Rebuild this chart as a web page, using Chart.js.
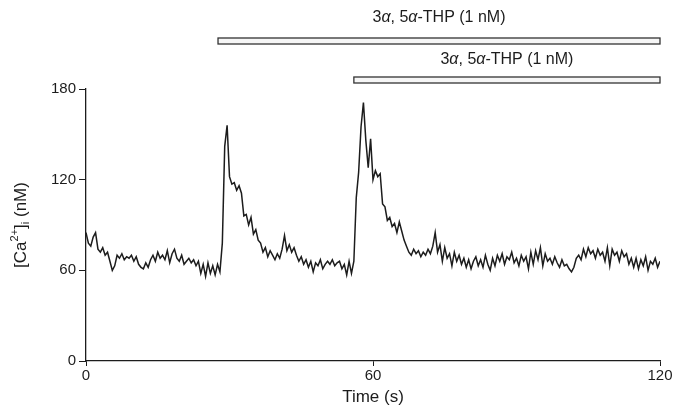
<!DOCTYPE html>
<html>
<head>
<meta charset="utf-8">
<script src="https://cdn.jsdelivr.net/npm/chart.js@4"></script>
<style>
  html, body { margin: 0; padding: 0; background: #fff; }
  #wrap { width: 676px; height: 412px; position: relative; }
</style>
</head>
<body>
<div id="wrap"><canvas id="chart-calcium"></canvas></div>
<script>
// [Ca2+]i trace, one reading every 0.5 s from 0 to 120 s
const SAMPLE_STEP = 0.5;
const caValues = [
    85, 78, 76, 82, 85, 74, 72, 75, 70, 72,
    66, 60, 63, 70, 68, 71, 67, 69, 68, 70,
    66, 69, 64, 62, 61, 65, 62, 67, 70, 66,
    72, 68, 70, 67, 73, 65, 71, 74, 68, 66,
    70, 64, 66, 68, 65, 67, 63, 66, 58, 64,
    56, 65, 58, 63, 57, 64, 59, 78, 142, 156,
    122, 117, 118, 113, 116, 111, 96, 97, 90, 95,
    84, 87, 80, 78, 72, 75, 69, 73, 70, 67,
    71, 68, 74, 83, 73, 77, 72, 75, 70, 66,
    69, 64, 67, 62, 66, 59, 65, 63, 67, 61,
    64, 66, 64, 67, 63, 65, 66, 61, 64, 57,
    66, 58, 66, 108, 125, 155, 171, 146, 128, 147,
    120, 126, 122, 124, 104, 102, 93, 95, 89, 91,
    85, 92, 86, 80, 76, 72, 70, 74, 71, 73,
    69, 72, 70, 74, 71, 76, 85, 72, 77, 66,
    75, 68, 71, 63, 72, 66, 70, 64, 68, 62,
    67, 61, 66, 69, 63, 67, 62, 70, 64, 60,
    68, 63, 70, 66, 71, 64, 69, 67, 72, 65,
    68, 63, 70, 66, 69, 61, 72, 64, 73, 67,
    75, 63, 71, 66, 68, 64, 69, 65, 62, 67,
    63, 64, 61, 59, 62, 68, 70, 67, 74, 69,
    75, 71, 73, 68, 74, 70, 72, 66, 75, 63,
    74, 70, 72, 66, 73, 69, 71, 64, 68, 62,
    68, 61, 67, 63, 69, 60, 66, 64, 68, 62,
    66
];
const xTicks = [0, 60, 120];
const yTicks = [0, 60, 120, 180];

// drug application bars (s)
const barStarts = [27.6, 56.0];
const barEnds = [120, 120];

const FONT = "'Liberation Sans', Arial, sans-serif";
const INK = '#1c1c1c';

Chart.defaults.font.family = FONT;
Chart.defaults.color = INK;

const points = caValues.map((v, i) => ({ x: i * SAMPLE_STEP, y: v }));

// draw a run of [text, font, dy] pieces centred on (0, 0)
function richText(ctx, parts) {
    let w = 0;
    parts.forEach(p => { ctx.font = p[1]; w += ctx.measureText(p[0]).width; });
    let x = -w / 2;
    ctx.textAlign = 'left';
    ctx.textBaseline = 'middle';
    parts.forEach(p => { ctx.font = p[1]; ctx.fillText(p[0], x, p[2]); x += ctx.measureText(p[0]).width; });
}

const drugBars = {
    id: 'drugBars',
    afterDraw(chart) {
        const { ctx, chartArea, scales } = chart;
        const rows = [chartArea.top - 51, chartArea.top - 12];
        const textRows = [chartArea.top - 71, chartArea.top - 29];
        const f = '16px ' + FONT, fi = 'italic 16px ' + FONT;
        const label = [['3', f, 0], ['\u03b1', fi, 0], [', 5', f, 0], ['\u03b1', fi, 0], ['-THP (1 nM)', f, 0]];
        ctx.save();
        barStarts.forEach((s, i) => {
            const x0 = scales.x.getPixelForValue(s);
            const x1 = scales.x.getPixelForValue(barEnds[i]);
            ctx.fillStyle = '#f6f6f6';
            ctx.strokeStyle = '#333';
            ctx.lineWidth = 1.3;
            ctx.fillRect(x0, rows[i], x1 - x0, 6);
            ctx.strokeRect(x0, rows[i], x1 - x0, 6);
            ctx.save();
            ctx.translate((x0 + x1) / 2, textRows[i]);
            ctx.fillStyle = INK;
            richText(ctx, label);
            ctx.restore();
        });
        ctx.restore();
    }
};

const yTitle = {
    id: 'yTitle',
    afterDraw(chart) {
        const { ctx, chartArea } = chart;
        const cy = (chartArea.top + chartArea.bottom) / 2;
        const big = '17px ' + FONT, small = '11px ' + FONT;
        ctx.save();
        ctx.translate(21, cy);
        ctx.rotate(-Math.PI / 2);
        ctx.fillStyle = INK;
        richText(ctx, [['[Ca', big, 0], ['2+', small, -6], [']', big, 0], ['i', small, 5], [' (nM)', big, 0]]);
        ctx.restore();
    }
};

new Chart(document.getElementById('chart-calcium'), {
    type: 'line',
    data: {
        datasets: [{ data: points, borderColor: INK, borderWidth: 1.5, pointRadius: 0, tension: 0, fill: false }]
    },
    options: {
        responsive: true, maintainAspectRatio: false, animation: false,
        layout: { padding: { top: 89, right: 16, left: 0, bottom: 0 } },
        plugins: { legend: { display: false }, tooltip: { enabled: false } },
        scales: {
            x: {
                type: 'linear', min: 0, max: 120,
                afterBuildTicks: s => { s.ticks = xTicks.map(v => ({ value: v })); },
                afterFit: s => { s.height = 51; },
                grid: { drawOnChartArea: false, drawTicks: true, tickLength: 5, color: INK },
                border: { color: INK, width: 1.3 },
                ticks: { font: { size: 15 }, padding: 1, maxRotation: 0 },
                title: { display: true, text: 'Time (s)', font: { size: 17 }, color: INK }
            },
            y: {
                min: 0, max: 180,
                afterBuildTicks: s => { s.ticks = yTicks.map(v => ({ value: v })); },
                afterFit: s => { s.width = 86; },
                grid: { drawOnChartArea: false, drawTicks: true, tickLength: 7, color: INK },
                border: { color: INK, width: 1.3 },
                ticks: { font: { size: 15 }, padding: 3 }
            }
        }
    },
    plugins: [drugBars, yTitle]
});
</script>
</body>
</html>
